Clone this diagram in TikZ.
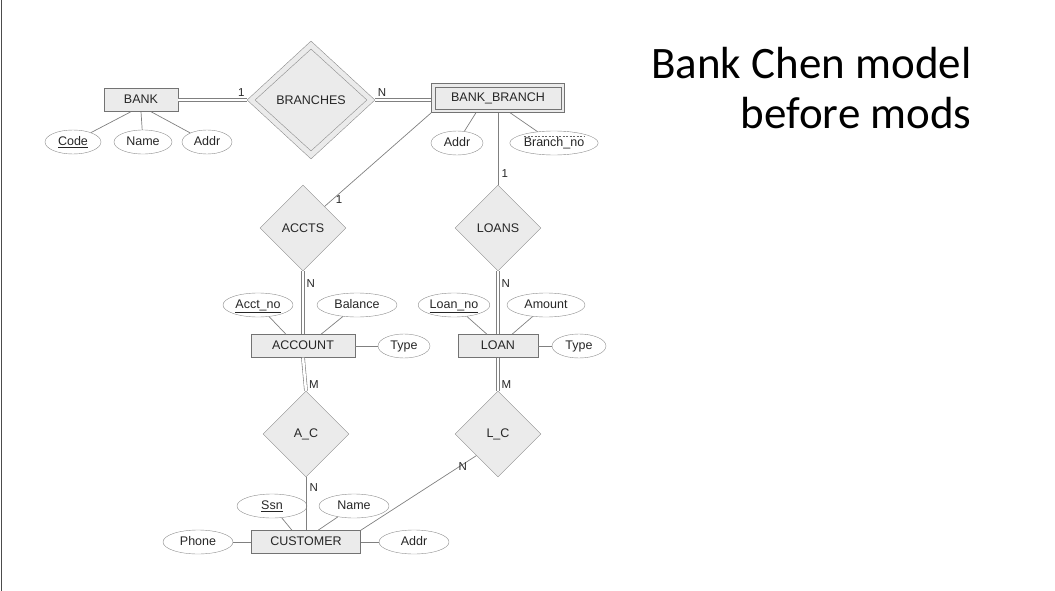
\documentclass[tikz,border=0pt]{standalone}
\usepackage{fontspec}
\setmainfont{Liberation Sans}
\newfontfamily\titlefont{Carlito}
\usetikzlibrary{shapes.geometric,calc}
\begin{document}
\begin{tikzpicture}[x=1pt,y=-1pt,
  every node/.style={font=\fontsize{12.5}{14}\selectfont, text=black!85},
  ent/.style={draw=black!55, fill=black!8, minimum height=23, inner sep=1, text height=9, text depth=2.5},
  attr/.style={ellipse, draw=black!45, minimum height=24, inner sep=1, text height=9, text depth=2.5},
  rel/.style={diamond, draw=black!45, fill=black!8, minimum width=86, minimum height=86, inner sep=0},
  ln/.style={draw=black!50, line width=0.7},
  dbl/.style={draw=black!50, double distance=2.5, line width=0.6},
  card/.style={font=\fontsize{11.5}{12}\selectfont}]
\useasboundingbox (0,0) rectangle (1055,591);
\draw[black!70, line width=1] (1,0) -- (1,591);
% title
\node[anchor=east, font=\titlefont\fontsize{45}{50}\selectfont, text=black, align=right] (title) at (975,88) {Bank Chen model\\before mods};
% entities
\node[ent, minimum width=74] (bank) at (141,100) {BANK};
\node[ent, minimum width=133, minimum height=29, fill=black!8] (bbo) at (498,98) {};
\node[ent, minimum width=126, minimum height=22] (bb) at (498,98) {BANK\_BRANCH};
\node[ent, minimum width=104] (acc) at (303,346) {ACCOUNT};
\node[ent, minimum width=80] (loan) at (498,346) {LOAN};
\node[ent, minimum width=109] (cust) at (306,542) {CUSTOMER};
% relationships
\node[rel, minimum width=128, minimum height=118] (br) at (311,100) {};
\node[diamond, draw=black!45, minimum width=112, minimum height=102, inner sep=0] (bri) at (311,100) {BRANCHES};
\node[rel] (accts) at (303,228) {ACCTS};
\node[rel] (loans) at (498,228) {LOANS};
\node[rel] (ac) at (306,434) {A\_C};
\node[rel] (lc) at (498,434) {L\_C};
% attributes
\node[attr, minimum width=56] (code) at (73,142) {\underline{Code}};
\node[attr, minimum width=58] (bname) at (143,142) {Name};
\node[attr, minimum width=50] (baddr) at (207,142) {Addr};
\node[attr, minimum width=52] (bbaddr) at (457,143) {Addr};
\node[attr, minimum width=82] (brno) at (554,143) {Branch\_no};
\draw[black!60, dash pattern=on 2pt off 1.5pt, line width=0.5] ([xshift=-30,yshift=6.5]brno.center) -- ([xshift=30,yshift=6.5]brno.center);
\node[attr, minimum width=70] (acctno) at (258,305) {\underline{Acct\_no}};
\node[attr, minimum width=80] (bal) at (357,305) {Balance};
\node[attr, minimum width=52] (atype) at (404,346) {Type};
\node[attr, minimum width=70] (loanno) at (454,305) {\underline{Loan\_no}};
\node[attr, minimum width=78] (amt) at (546,305) {Amount};
\node[attr, minimum width=54] (ltype) at (579,346) {Type};
\node[attr, minimum width=70] (ssn) at (272,506) {\underline{Ssn}};
\node[attr, minimum width=70] (cname) at (354,506) {Name};
\node[attr, minimum width=70] (phone) at (198,542) {Phone};
\node[attr, minimum width=70] (caddr) at (414,542) {Addr};
% attribute lines
\draw[ln] (code) -- ([xshift=-10]bank.south);
\draw[ln] (bname) -- (bank.south);
\draw[ln] (baddr) -- ([xshift=10]bank.south);
\draw[ln] (bbaddr) -- ([xshift=-22]bbo.south);
\draw[ln] (brno) -- ([xshift=12]bbo.south);
\draw[ln] (acctno) -- ([xshift=-17]acc.north);
\draw[ln] (bal) -- ([xshift=18]acc.north);
\draw[ln] (atype) -- (acc.east);
\draw[ln] (loanno) -- ([xshift=-11]loan.north);
\draw[ln] (amt) -- ([xshift=14]loan.north);
\draw[ln] (ltype) -- (loan.east);
\draw[ln] (ssn) -- ([xshift=-14]cust.north);
\draw[ln] (cname) -- ([xshift=12]cust.north);
\draw[ln] (phone) -- (cust.west);
\draw[ln] (caddr) -- (cust.east);
% relationship lines
\draw[dbl] (bank.east) -- (bank.east -| br.west) node[card, pos=0.92, above] {1};
\draw[dbl] (br.east) -- (br.east -| bbo.west) node[card, pos=0.12, above] {N};
\draw[ln] (bbo.south west) -- (accts.north east) node[card, pos=0.93, right] {1};
\draw[ln] (bbo.south) -- (loans.north) node[card, pos=0.85, right] {1};
\draw[dbl] (accts.south) -- (acc.north) node[card, pos=0.2, right] {N};
\draw[dbl] (loans.south) -- (loan.north) node[card, pos=0.2, right] {N};
\draw[dbl] (acc.south) -- (ac.north) node[card, pos=0.8, right] {M};
\draw[dbl] (loan.south) -- (lc.north) node[card, pos=0.8, right] {M};
\draw[ln] (ac.south) -- (cust.north) node[card, pos=0.2, right] {N};
\draw[ln] (lc.south west) -- (cust.north east) node[card, pos=0.05, below left] {N};
\end{tikzpicture}
\end{document}
